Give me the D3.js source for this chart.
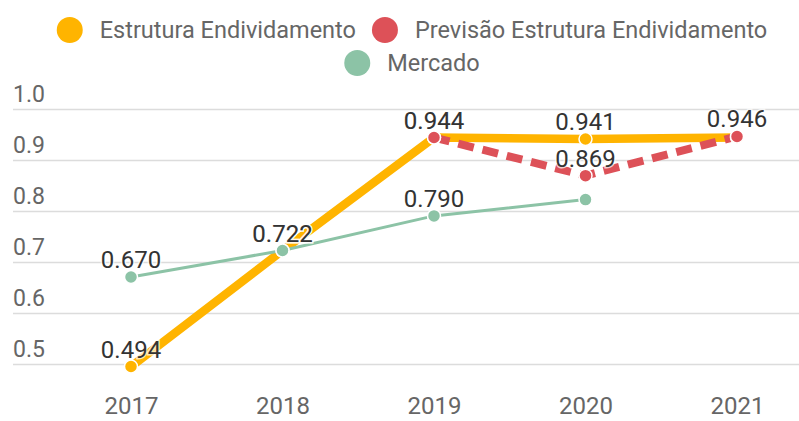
<!DOCTYPE html>
<html>
<head>
<meta charset="utf-8">
<script src="https://cdn.jsdelivr.net/npm/d3@7"></script>
<style>
  body { margin: 0; background: #fff; }
  svg { font-family: Roboto, "Noto Sans", sans-serif; }
</style>
</head>
<body>
<svg width="799" height="421"></svg>
<script>
// dados
const anos = ['2017', '2018', '2019', '2020', '2021'];
const estrutura = [0.494, 0.722, 0.944, 0.941, 0.944];
const estruturaRotulos = [true, true, true, true, false];
const previsao = [null, null, 0.944, 0.869, 0.946];
const previsaoRotulos = [false, false, true, true, true];
const mercado = [0.670, 0.722, 0.790, 0.822, null];
const mercadoRotulos = [true, true, true, false, false];
const yTicks = [0.5, 0.6, 0.7, 0.8, 0.9, 1.0];

const series = [
    { nome: 'Estrutura Endividamento', valores: estrutura, rotulos: estruturaRotulos, cor: '#ffb400', largura: 8.5, dash: null },
    { nome: 'Previsão Estrutura Endividamento', valores: previsao, rotulos: previsaoRotulos, cor: '#dd5158', largura: 8, dash: '16 9' },
    { nome: 'Mercado', valores: mercado, rotulos: mercadoRotulos, cor: '#8cc3a6', largura: 3, dash: null }
];

const svg = d3.select('svg');

const x = d3.scalePoint()
    .domain(anos)
    .range([131, 737]);

const y = d3.scaleLinear()
    .domain([0.5, 1.0])
    .range([363.5, 109]);

//Linhas de grade e rótulos do eixo Y
const grade = svg.append('g');
grade.selectAll('line')
    .data(yTicks)
    .enter()
    .append('line')
    .attr('x1', 13)
    .attr('x2', 799)
    .attr('y1', d => Math.round(y(d)) + 0.5)
    .attr('y2', d => Math.round(y(d)) + 0.5)
    .attr('stroke', '#dcdcdc')
    .attr('stroke-width', 1.3);

grade.selectAll('text')
    .data(yTicks)
    .enter()
    .append('text')
    .attr('x', 13)
    .attr('y', d => y(d) - 7)
    .attr('font-size', 23)
    .attr('fill', '#666')
    .text(d => d3.format('.1f')(d));

//Eixo X
const eixoX = svg.append('g')
    .attr('transform', 'translate(0,414)')
    .call(d3.axisBottom(x).tickSize(0).tickPadding(0));
eixoX.select('.domain').remove();
eixoX.selectAll('text')
    .attr('font-size', 24)
    .attr('font-family', 'Roboto, sans-serif')
    .attr('fill', '#666')
    .attr('dy', 0)
    .attr('y', 0);

//Linhas
const linha = d3.line()
    .defined(d => d.v != null)
    .x(d => x(d.ano))
    .y(d => y(d.v));

const pontosDe = s => anos.map((ano, i) => ({ ano, v: s.valores[i], rotulo: s.rotulos[i], cor: s.cor }));

series.forEach(s => {
    svg.append('path')
        .datum(pontosDe(s))
        .attr('fill', 'none')
        .attr('stroke', s.cor)
        .attr('stroke-width', s.largura)
        .attr('stroke-dasharray', s.dash)
        .attr('d', linha);
});

//Marcadores
series.forEach(s => {
    svg.append('g')
        .selectAll('circle')
        .data(pontosDe(s).filter(d => d.v != null))
        .enter()
        .append('circle')
        .attr('cx', d => x(d.ano))
        .attr('cy', d => y(d.v))
        .attr('r', 6.5)
        .attr('fill', s.cor)
        .attr('stroke', '#fff')
        .attr('stroke-width', 1.5);
});

//Rótulos de valor
series.forEach(s => {
    svg.append('g')
        .selectAll('text')
        .data(pontosDe(s).filter(d => d.v != null && d.rotulo))
        .enter()
        .append('text')
        .attr('x', d => x(d.ano))
        .attr('y', d => y(d.v) - 9)
        .attr('text-anchor', 'middle')
        .attr('font-size', 24)
        .attr('fill', '#333')
        .attr('stroke', '#fff')
        .attr('stroke-width', 3)
        .attr('stroke-opacity', 0.7)
        .attr('paint-order', 'stroke')
        .text(d => d3.format('.3f')(d.v));
});

//Legenda
const linhasLegenda = [[series[0], series[1]], [series[2]]];
const legendaY = [30, 63];
const centro = 412;
linhasLegenda.forEach((itens, li) => {
    const g = svg.append('g');
    let cursor = 0;
    itens.forEach((s, i) => {
        if (i > 0) cursor += 16;
        g.append('circle')
            .attr('cx', cursor + 13)
            .attr('cy', legendaY[li])
            .attr('r', 13)
            .attr('fill', s.cor);
        const t = g.append('text')
            .attr('x', cursor + 43)
            .attr('y', legendaY[li] + 8)
            .attr('font-size', 23.5)
            .attr('fill', '#666')
            .text(s.nome);
        cursor += 43 + t.node().getComputedTextLength();
    });
    g.attr('transform', `translate(${centro - cursor / 2},0)`);
});
</script>
</body>
</html>
